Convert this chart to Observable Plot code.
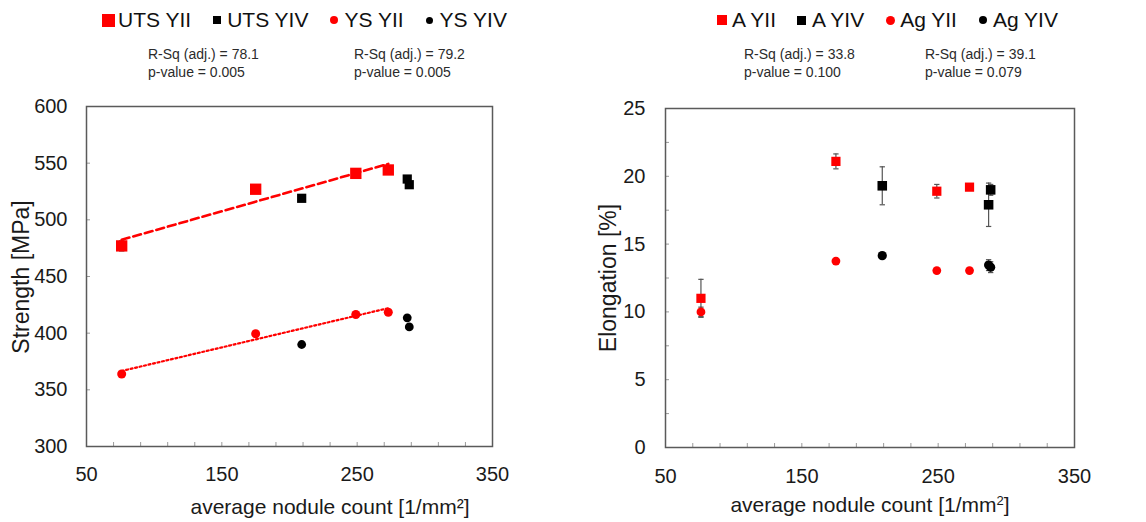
<!DOCTYPE html>
<html>
<head>
<meta charset="utf-8">
<script src="https://cdn.jsdelivr.net/npm/d3@7"></script>
<script src="https://cdn.jsdelivr.net/npm/@observablehq/plot@0.6"></script>
<style>
  body { margin: 0; background: #fff; font-family: "Liberation Sans", Arial, sans-serif; }
  #wrap { position: relative; width: 1146px; height: 522px; overflow: hidden; background: #fff; }
  .panel { position: absolute; top: 90px; }
  .legend { position: absolute; top: 8px; display: flex; align-items: center; gap: 18px; font-size: 21px; color: #111; white-space: nowrap; }
  .item { display: flex; align-items: center; }
  .slot { width: 16px; margin-right: 2px; display: flex; justify-content: center; align-items: center; }
  .stat { position: absolute; top: 45px; font-size: 14px; line-height: 18px; color: #2b2b2b; white-space: nowrap; }
  .xlabel { position: absolute; font-size: 21px; line-height: 24px; transform: translateX(-50%); white-space: nowrap; color: #1a1a1a; }
  .ylabel { position: absolute; font-size: 23px; line-height: 26px; transform: translate(-50%, -50%) rotate(-90deg); white-space: nowrap; color: #1a1a1a; }
  .xlabel sup { font-size: 13px; vertical-align: 7px; line-height: 0; }
</style>
</head>
<body>
<div id="wrap"></div>
<script>
// Average nodule count [1/mm²] of the YII and YIV castings
const countYII = [76, 175, 249, 273];
const countYIV = [209, 287, 288.5];

// Strength [MPa]
const utsYII = [477, 527, 541, 544];
const utsYIV = [519, 536, 531];
const ysYII = [364, 399.5, 416.5, 418.5];
const ysYIV = [390, 413.5, 405.5];
const utsYIIErr = [4.5, 0, 0, 0];

// Elongation [%]
const aYII = [11.0, 21.1, 18.9, 19.2];
const aYIV = [19.3, 17.9, 19.0];
const agYII = [10.0, 13.75, 13.05, 13.05];
const agYIV = [14.15, 13.45, 13.3];
const aYIIErr = [1.4, 0.55, 0.5, 0];
const aYIVErr = [1.4, 1.6, 0.4];
const agYIIErr = [0.35, 0, 0, 0];
const agYIVErr = [0, 0.4, 0.4];

// Legend names and regression statistics
const strengthSeries = ["UTS YII", "UTS YIV", "YS YII", "YS YIV"];
const elongationSeries = ["A YII", "A YIV", "Ag YII", "Ag YIV"];
const strengthStats = [["78.1", "0.005"], ["79.2", "0.005"]];
const elongationStats = [["33.8", "0.100"], ["39.1", "0.079"]];

// Axis ticks
const countTicks = [50, 150, 250, 350];
const strengthTicks = [300, 350, 400, 450, 500, 550, 600];
const elongationTicks = [0, 5, 10, 15, 20, 25];

const RED = "#ff0000";
const BLACK = "#000000";

const rows = (xs, ys, errs) => xs.map((x, i) => ({x, y: ys[i], e: errs ? errs[i] : 0}));

// Short horizontal line used as error-bar cap
const capSymbol = {
  draw(context, size) {
    const w = Math.sqrt(size) / 2;
    context.moveTo(-w, 0);
    context.lineTo(w, 0);
  }
};

function errorBars(data) {
  const d = data.filter(r => r.e > 0);
  return [
    Plot.ruleX(d, {x: "x", y1: r => r.y - r.e, y2: r => r.y + r.e, stroke: "#555", strokeWidth: 1.2}),
    Plot.dot(d, {x: "x", y: r => r.y - r.e, symbol: capSymbol, r: 3, fill: "none", stroke: "#555", strokeWidth: 1.2}),
    Plot.dot(d, {x: "x", y: r => r.y + r.e, symbol: capSymbol, r: 3, fill: "none", stroke: "#555", strokeWidth: 1.2})
  ];
}

function frameAxes(yTicks, yMinor, padX, padY) {
  return [
    Plot.axisX(countTicks, {tickSize: 0, tickPadding: padX, label: null, fill: "#1a1a1a"}),
    Plot.axisX(d3.range(50, 351, 20), {tickSize: 4, dy: -4, fill: "none", stroke: "#9a9a9a", label: null}),
    Plot.axisY(yTicks, {tickSize: 0, tickPadding: padY, label: null, fill: "#1a1a1a"}),
    Plot.axisY(yMinor, {tickSize: 4, dx: 4, fill: "none", stroke: "#9a9a9a", label: null}),
    Plot.frame({stroke: "#5a5a5a", strokeWidth: 1.5})
  ];
}

const plotStyle = {fontFamily: "Liberation Sans, Arial, sans-serif", fontSize: "20px", background: "#fff", overflow: "visible"};

// Strength vs. nodule count
const uts2 = rows(countYII, utsYII, utsYIIErr);
const uts4 = rows(countYIV, utsYIV);
const ys2 = rows(countYII, ysYII);
const ys4 = rows(countYIV, ysYIV);

const strengthPlot = Plot.plot({
  width: 573, height: 432,
  marginLeft: 86, marginRight: 81, marginTop: 16, marginBottom: 76,
  style: plotStyle,
  x: {domain: [50, 350]},
  y: {domain: [300, 600]},
  marks: [
    ...frameAxes(strengthTicks, strengthTicks, 20, 19),
    ...errorBars(uts2),
    Plot.linearRegressionY(uts2, {x: "x", y: "y", stroke: RED, strokeWidth: 2.6, strokeDasharray: "8,4", ci: 0}),
    Plot.linearRegressionY(ys2, {x: "x", y: "y", stroke: RED, strokeWidth: 2.2, strokeDasharray: "2,2.6", ci: 0}),
    Plot.dot(uts4, {x: "x", y: "y", symbol: "square", r: 5.2, fill: BLACK}),
    Plot.dot(ys4, {x: "x", y: "y", symbol: "circle", r: 4.4, fill: BLACK}),
    Plot.dot(uts2, {x: "x", y: "y", symbol: "square", r: 6.4, fill: RED}),
    Plot.dot(ys2, {x: "x", y: "y", symbol: "circle", r: 4.5, fill: RED})
  ]
});

// Elongation vs. nodule count
const a2 = rows(countYII, aYII, aYIIErr);
const a4 = rows(countYIV, aYIV, aYIVErr);
const ag2 = rows(countYII, agYII, agYIIErr);
const ag4 = rows(countYIV, agYIV, agYIVErr);

const elongationPlot = Plot.plot({
  width: 573, height: 432,
  marginLeft: 92, marginRight: 72, marginTop: 18, marginBottom: 75,
  style: plotStyle,
  x: {domain: [50, 350]},
  y: {domain: [0, 25]},
  marks: [
    ...frameAxes(elongationTicks, d3.range(0, 25.01, 2.5), 21, 20),
    ...errorBars(a2), ...errorBars(a4), ...errorBars(ag2), ...errorBars(ag4),
    Plot.dot(a4, {x: "x", y: "y", symbol: "square", r: 5.4, fill: BLACK}),
    Plot.dot(ag4, {x: "x", y: "y", symbol: "circle", r: 4.6, fill: BLACK}),
    Plot.dot(a2, {x: "x", y: "y", symbol: "square", r: 5.2, fill: RED}),
    Plot.dot(ag2, {x: "x", y: "y", symbol: "circle", r: 4.4, fill: RED})
  ]
});

const wrap = document.getElementById("wrap");

function place(node, left) {
  const div = document.createElement("div");
  div.className = "panel";
  div.style.left = left + "px";
  div.appendChild(node);
  wrap.appendChild(div);
}
place(strengthPlot, 0);
place(elongationPlot, 573);

// Legend marker: square or circle in the series colour
function marker(shape, color, size) {
  const m = document.createElement("span");
  m.style.display = "inline-block";
  m.style.width = size + "px";
  m.style.height = size + "px";
  m.style.background = color;
  if (shape === "circle") m.style.borderRadius = "50%";
  return m;
}

function legend(names, markers, left) {
  const lg = document.createElement("div");
  lg.className = "legend";
  lg.style.left = left + "px";
  names.forEach((name, i) => {
    const it = document.createElement("div");
    it.className = "item";
    const slot = document.createElement("span");
    slot.className = "slot";
    slot.appendChild(marker(...markers[i]));
    it.appendChild(slot);
    it.appendChild(document.createTextNode(name));
    lg.appendChild(it);
  });
  wrap.appendChild(lg);
}

legend(strengthSeries, [["square", RED, 13], ["square", BLACK, 8], ["circle", RED, 8], ["circle", BLACK, 7]], 100);
legend(elongationSeries, [["square", RED, 10], ["square", BLACK, 9], ["circle", RED, 9], ["circle", BLACK, 8]], 714);

function stats(pair, left) {
  const s = document.createElement("div");
  s.className = "stat";
  s.style.left = left + "px";
  s.innerHTML = `R-Sq (adj.) = ${pair[0]}<br>p-value = ${pair[1]}`;
  wrap.appendChild(s);
}
stats(strengthStats[0], 148);
stats(strengthStats[1], 354);
stats(elongationStats[0], 744);
stats(elongationStats[1], 925);

function label(cls, html, left, top) {
  const l = document.createElement("div");
  l.className = cls;
  l.style.left = left + "px";
  l.style.top = top + "px";
  l.innerHTML = html;
  wrap.appendChild(l);
}
label("xlabel", "average nodule count [1/mm²]", 330, 495);
label("xlabel", "average nodule count [1/mm<sup>2</sup>]", 870, 493);
label("ylabel", "Strength [MPa]", 21, 277);
label("ylabel", "Elongation [%]", 608, 278);
</script>
</body>
</html>
